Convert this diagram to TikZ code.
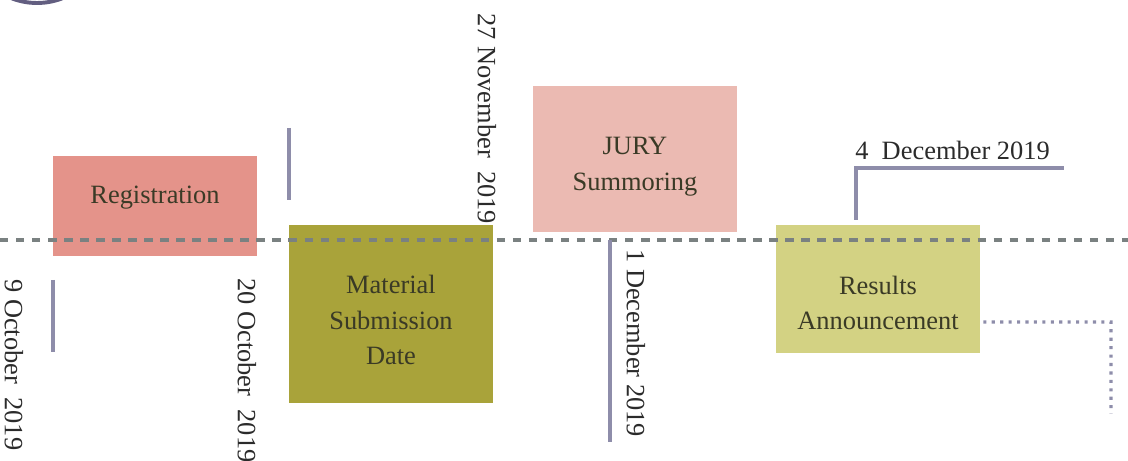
\documentclass[tikz,border=0pt]{standalone}
\usepackage{fontspec}
\setmainfont{Liberation Serif}
\usetikzlibrary{calc}

\definecolor{regcolor}{HTML}{E4938A}
\definecolor{matcolor}{HTML}{A9A33A}
\definecolor{jurycolor}{HTML}{EBBAB2}
\definecolor{rescolor}{HTML}{D3D283}
\definecolor{markcolor}{HTML}{8E8DAA}
\definecolor{axiscolor}{HTML}{7A8181}
\definecolor{ringcolor}{HTML}{625E80}
\definecolor{boxtext}{HTML}{3A3A26}
\definecolor{datetext}{HTML}{2B2B2B}

\begin{document}
\begin{tikzpicture}[
        box_style/.style={rectangle, minimum width=5.1cm, inner sep=0pt},
        text_style/.style={align=center, inner sep=0pt, text=boxtext, font=\fontsize{18.8}{25.5}\selectfont},
        date_style/.style={inner sep=0pt, text=datetext, font=\fontsize{18.8}{25.5}\selectfont},
        mark_style/.style={draw=markcolor, line width=2.8pt},
        axis_style/.style={draw=axiscolor, line width=2.2pt, dash pattern=on 6pt off 5.4pt},
        link_style/.style={draw=markcolor, line width=2.2pt, dash pattern=on 2.2pt off 3.8pt}]

        \useasboundingbox (0,0) rectangle (28.2,11.525);

        % ring in the corner
        \draw [ringcolor, line width=2.8pt] (0.925,13.2) circle (1.75);

        % stage boxes
        \node [box_style, fill=regcolor, minimum height=2.5cm](reg) at (3.875,6.375) {};

        \node [box_style, fill=matcolor, minimum height=4.45cm](mat) at (9.775,3.675) {};

        \node [box_style, fill=jurycolor, minimum height=3.65cm](jury) at (15.875,7.55) {};

        \node [box_style, fill=rescolor, minimum height=3.2cm](res) at (21.95,4.3) {};

        \node [text_style](reg_text) at ($(reg)+(0,0.2)$) {Registration};

        \node [text_style](mat_text) at ($(mat)+(0,-0.15)$) {Material\\Submission\\Date};

        \node [text_style](jury_text) at ($(jury)+(0,-0.2)$) {JURY\\Summoring};

        \node [text_style](res_text) at ($(res)+(0,-0.35)$) {Results\\Announcement};

        % time axis
        \coordinate (axis_l) at (0,5.525);
        \coordinate (axis_r) at (28.2,5.525);
        \draw [axis_style] (axis_l) -- (axis_r);

        % date marks
        \coordinate (m1_top) at (1.325,4.525);
        \coordinate (m1_bot) at (1.325,2.725);
        \coordinate (m2_top) at (7.225,8.325);
        \coordinate (m2_bot) at (7.225,6.525);
        \coordinate (m3_top) at (15.25,5.525);
        \coordinate (m3_bot) at (15.25,0.475);
        \coordinate (m4_bot) at (21.4,6.025);
        \coordinate (m4_top) at (21.4,7.325);
        \coordinate (m4_end) at (26.6,7.325);

        \draw [mark_style] (m1_top) -- (m1_bot);
        \draw [mark_style] (m2_top) -- (m2_bot);
        \draw [mark_style] (m3_top) -- (m3_bot);
        \draw [mark_style] (m4_bot) -- (m4_top) -- (m4_end);

        % dotted lead from results
        \coordinate (lead_a) at ($(res.east)+(0.075,-0.825)$);
        \coordinate (lead_b) at (27.775,3.475);
        \coordinate (lead_c) at (27.775,1.175);
        \draw [link_style] (lead_a) -- (lead_b) -- (lead_c);

        % dates
        \node [date_style, rotate=-90, anchor=west](d1) at (0.35,4.55) {9 October~ 2019};

        \node [date_style, rotate=-90, anchor=west](d2) at (6.175,4.575) {20 October~ 2019};

        \node [date_style, rotate=-90, anchor=west](d3) at (12.175,11.2) {27 November~ 2019};

        \node [date_style, rotate=-90, anchor=west](d4) at (15.9,5.3) {1 December 2019};

        \node [date_style, anchor=base west](d5) at (21.375,7.525) {4~ December 2019};

\end{tikzpicture}
\end{document}
